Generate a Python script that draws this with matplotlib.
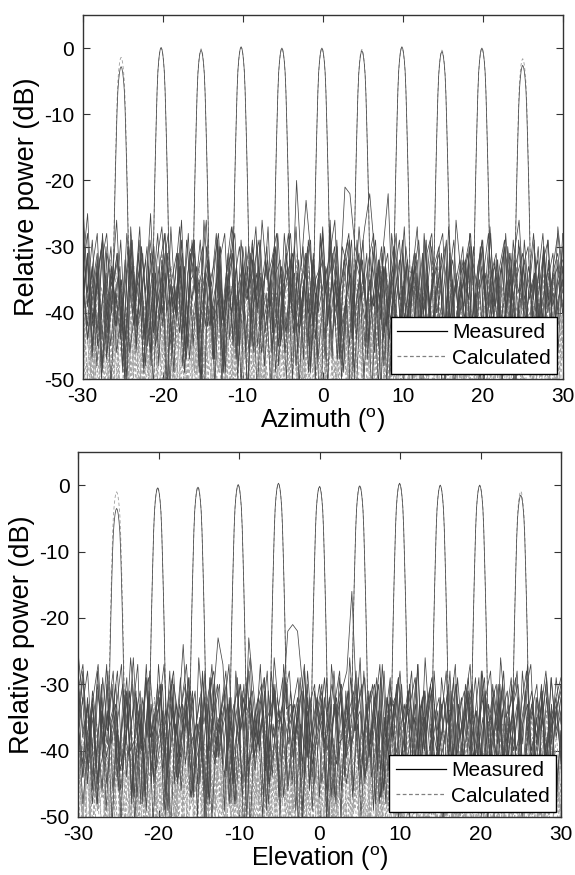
import numpy as np
import matplotlib
matplotlib.use("Agg")
import matplotlib.pyplot as plt
from matplotlib.lines import Line2D

plt.rcParams['font.family'] = ['Liberation Sans', 'DejaVu Sans']
plt.rcParams['mathtext.fontset'] = 'custom'
plt.rcParams['mathtext.rm'] = 'Liberation Sans'
plt.rcParams['axes.unicode_minus'] = False

# ---------------- data ----------------
# beam pointing angles (deg) and peak levels (dB)
az_centers = [-25.2, -20.2, -15.2, -10.2, -5.1, -0.1, 4.9, 9.9, 14.9, 19.9, 25.0]
az_peak_meas = [-2.8, 0.1, -0.3, 0.2, 0.0, 0.0, -0.4, 0.2, -0.5, 0.0, -2.6]
az_peak_calc = [-1.4, 0.0, -0.1, 0.1, 0.0, 0.0, -0.2, 0.1, -0.3, 0.0, -1.6]

el_centers = [-25.2, -20.1, -15.1, -10.1, -5.1, 0.0, 5.0, 9.95, 15.0, 19.9, 25.0]
el_peak_meas = [-3.5, -0.4, -0.3, 0.1, 0.3, -0.2, -0.1, 0.3, 0.0, 0.0, -1.5]
el_peak_calc = [-1.0, -0.3, -0.2, 0.0, 0.2, -0.1, 0.0, 0.2, 0.0, 0.0, -0.9]

# main-lobe shape: offset from beam centre (deg) and drop below peak (dB)
lobe_offset = [-1.0, -0.9, -0.8, -0.7, -0.6, -0.5, -0.4, -0.3, -0.2, -0.1, 0.0,
               0.1, 0.2, 0.3, 0.4, 0.5, 0.6, 0.7, 0.8, 0.9, 1.0]
lobe_drop = [34, 27, 20.8, 15.5, 10.8, 6.5, 3.6, 2.0, 0.9, 0.25, 0,
             0.25, 0.9, 2.0, 3.6, 6.5, 10.8, 15.5, 20.8, 27, 34]

# per-beam side-lobe level offsets (dB, added to the depths below)
az_meas_shift = [-1, 0, 2, 4, 0, 0, 3, -2, 1, 4, 2]
az_calc_shift = [0, 3, 1, 4, -2, 2, 5, 0, 3, -1, 4]
el_meas_shift = [-1, 0, 0, 0, 3, 0, 2, 4, -2, 3, 1]
el_calc_shift = [2, 0, 4, 1, 3, -2, 5, 2, 0, 3, 1]

# side-lobe levels (dB below 0), sampled evenly from -30 to 30 deg
az_meas_sll = [
 [24,38,30,44,33,29,41,35,47,31,28,39,33,45,30,36,42,29,37,50,32,40,29,46,35,31,43,38,30,52,34,28,41,36,47,32,39,30,44,37,31,45,29,38,42,33,48,30,36,41,29,43,35,31,49,37,30,45,33,40,36,30,42,34,51,31,39,28,44,35,30,41,37,46,32,29,43,36,48,33,38,31,45,34,40,29,47,35,31,42,33,46,30,39,36,44,31,50,34,29,37],
 [33,25,41,35,29,46,38,31,43,28,36,45,30,39,48,34,30,22,27,40,33,47,31,37,29,42,36,51,32,28,44,35,30,39,46,33,29,41,37,31,48,34,28,43,36,30,45,32,39,27,41,35,47,30,33,44,29,38,31,53,36,30,42,35,28,46,33,39,31,44,37,29,48,34,30,41,36,32,45,28,39,35,50,31,37,43,30,34,46,29,40,33,38,30,44,35,31,42,28],
 [36,29,43,31,48,35,28,40,33,45,30,37,27,42,34,49,31,38,29,44,35,24,41,33,47,30,38,32,45,28,40,34,29,46,37,31,43,27,39,35,50,32,30,44,36,28,41,33,47,29,38,34,31,45,27,40,36,52,30,33,43,29,37,31,46,34,28,42,35,30,48,32,39,27,44,36,31,41,29,50,34,37,30,45,33,28,42,35,47,31,38,29,43,34,30,46,32,40,28,37,35,44,31],
 [31,40,34,28,45,37,30,42,35,49,29,38,33,44,27,41,36,30,47,32,39,29,43,35,31,50,28,37,34,45,30,40,26,43,36,31,48,33,29,41,37,32,46,28,39,35,30,44,33,54,29,38,31,42,36,28,45,34,30,40,33,47,29,37,31,43,35,28,41,32,49,30,38,34,27,44,36,31,42,29,39,33,46,30,35,28,41,37,31,48,34,29,43,36,30,39,32,45,28,36],
 [34,28,42,36,30,47,33,39,29,44,31,37,27,43,35,30,48,33,28,40,36,31,45,29,38,34,26,42,37,30,49,32,28,41,35,30,46,33,38,27,43,31,36,29,40,20,33,23,31,44,29,37,34,30,47,32,28,41,36,29,45,33,39,31,51,28,35,42,30,37,33,46,29,40,34,31,44,27,38,35,30,48,32,36,29,42,34,31,45,28,39,33,30,43,36,29,47,31,38,34,40,30],
 [30,39,33,45,28,41,36,31,48,34,29,43,37,30,46,32,27,40,35,31,44,29,38,33,50,30,36,28,42,34,31,47,29,38,35,27,43,32,39,30,45,33,28,41,36,31,49,30,37,34,26,42,35,21,22,30,33,27,22,31,38,30,44,34,29,41,36,31,47,28,39,33,30,45,35,29,42,32,38,30,52,34,28,41,36,31,46,29,37,33,30,44,35,28,40,34,31,37],
 [35,29,44,31,38,27,42,34,30,47,33,39,28,45,36,31,41,29,50,34,37,30,43,32,28,46,35,31,40,29,44,33,37,30,48,27,39,34,31,45,36,29,42,33,30,47,31,38,28,43,35,30,41,24,37,33,46,29,40,32,28,44,36,31,49,30,38,34,29,42,35,31,45,28,39,33,30,47,36,29,41,32,38,27,44,34,31,40,36,29,48,33,30,43,35,31,46,28,38,34,30,42,32,37],
 [29,41,35,30,46,33,38,28,43,36,31,48,32,39,27,44,34,30,41,37,29,45,33,31,50,28,38,35,30,43,36,29,47,32,39,31,42,28,37,34,30,46,33,40,29,44,35,31,52,30,37,33,28,45,36,31,41,29,39,34,30,47,32,24,43,35,31,40,36,29,45,33,30,42,38,31,48,28,36,34,30,44,32,39,29,41,35,31,46,33,28,40,37,30,43,34,31,45,29,36],
 [37,30,45,33,28,42,35,31,48,29,39,34,30,44,36,27,41,32,38,30,47,33,29,43,35,31,46,28,40,34,30,49,32,37,29,44,35,31,42,27,38,33,30,45,36,29,41,34,31,50,30,38,33,28,43,36,31,46,29,39,34,30,42,35,28,47,32,37,30,44,33,29,41,24,31,38,35,30,45,32,28,42,36,31,48,29,37,33,30,44,35,31,40,28,38,34,31],
 [32,38,29,44,35,30,47,33,40,28,42,36,31,45,29,39,34,30,48,32,37,25,43,35,31,46,30,38,33,29,44,36,31,41,28,49,34,30,42,37,31,45,29,39,33,30,47,32,36,28,43,35,31,40,29,46,34,30,51,33,37,31,42,28,39,35,30,45,32,38,29,44,36,31,41,33,30,47,28,38,34,31,43,36,29,45,32,39,30,42,35,31,48,29,37,33,30,44,36,28,40,34,31],
 [30,42,34,29,46,37,31,40,33,48,28,39,35,30,44,32,38,29,43,36,31,47,33,27,41,35,30,45,32,39,29,43,34,31,50,30,37,33,28,44,36,31,41,29,46,34,30,39,33,31,45,28,38,35,30,43,32,29,48,34,37,30,42,36,31,46,29,39,33,30,44,35,28,41,37,31,47,32,38,30,43,34,29,45,33,31,40,36,29,44,32,38,30,42,35,29,46,33,31,37],
]

az_calc_sll = [
 [33,45,38,52,36,41,56,34,47,39,31,50,42,37,58,35,44,40,53,33,46,38,49,36,55,41,34,47,39,51,37,43,60,35,45,40,32,48,38,54,36,42,46,34,57,39,44,37,50,33,41,48,36,53,40,35,46,38,59,34,43,49,37,52,40,33,45,39,56,36,42,47,35,51,38,44,40,33,54,37,46,41,35,50,39,43,48,34,57,38,42,36,49,40,33,53,37,45,39,47,35,51,41,38,44],
 [40,34,49,37,55,42,36,47,33,52,39,45,38,58,35,43,41,50,36,46,34,53,40,37,48,35,56,42,39,45,33,51,38,44,36,54,41,47,35,49,39,60,37,43,34,52,40,46,38,55,36,42,48,33,50,39,45,37,57,35,44,41,53,38,47,34,51,40,36,46,39,55,33,43,49,37,52,41,35,47,38,58,36,44,40,50,34,46,39,53,37,42,48,35,56,40,38,45,36],
 [37,48,35,53,41,39,46,33,57,40,44,36,51,38,47,34,55,42,37,49,35,52,40,45,38,60,36,43,47,34,50,39,44,37,54,41,35,48,38,56,36,42,46,33,51,40,45,37,53,39,34,49,41,58,36,43,38,47,35,52,40,44,37,55,33,46,39,50,42,36,48,35,57,38,43,41,51,34,45,39,54,37,47,36,49,40,33,53,38,44,42,50,35,46,39,56,37,43,48,34,52,40],
 [44,36,51,39,47,34,55,41,38,49,35,53,40,45,37,58,33,46,42,50,36,48,39,54,35,43,47,38,52,40,34,56,41,45,37,49,39,60,36,44,42,51,34,47,38,53,40,35,48,43,57,37,45,39,50,36,46,41,55,34,49,38,44,40,52,35,47,37,59,42,39,46,36,51,40,43,48,35,54,38,45,41,50,34,47,39,56,37,42,44,36,49,40,53,38,46,35],
 [39,52,36,45,41,57,34,48,38,43,50,35,55,40,46,37,53,33,47,42,59,36,44,39,51,35,49,41,56,38,45,34,52,40,47,37,54,36,43,48,39,58,35,46,41,50,33,53,38,44,40,56,36,49,42,47,34,55,39,45,37,51,41,60,35,48,38,43,46,36,53,40,44,39,57,34,50,42,47,37,54,35,45,41,52,38,49,36,56,40,43,47,34,51,39,45,37,58,41,48,36,53,44,40],
 [42,35,50,38,46,33,54,40,44,37,57,36,48,41,52,34,45,39,55,37,43,49,35,59,40,46,38,51,36,47,42,56,34,44,39,53,37,48,41,50,35,58,38,45,40,52,36,47,33,55,41,43,39,51,37,49,35,57,40,46,38,53,42,44,36,50,39,60,34,47,41,54,37,45,40,52,35,48,38,56,43,42,36,51,39,46,34,55,40,47,37,53,41,44,38,58,35,49,42,45],
 [36,49,41,55,38,44,47,34,53,40,46,37,58,42,35,51,39,45,43,56,36,48,40,52,34,47,41,57,38,44,39,50,35,54,42,46,37,60,40,43,48,36,52,39,45,34,55,41,47,38,51,36,49,43,57,35,44,40,53,37,46,42,50,34,56,39,45,41,48,36,54,38,43,47,35,59,40,44,37,51,42,46,34,53,39,48,36,55,41,45,38,50,35,57,43,44,37,52,40,47,36,54,39],
 [47,38,53,35,44,41,58,37,46,40,51,34,55,42,39,48,36,56,43,45,37,52,40,49,35,57,38,44,42,53,36,47,39,60,41,45,34,50,38,54,43,46,37,55,40,48,35,52,42,44,39,57,36,47,41,51,34,56,38,45,43,49,37,53,40,46,35,58,42,44,39,50,36,54,41,47,38,52,34,55,43,45,37,49,40,56,36,46,42,51,39,53,35,48,44,57,38,43],
 [41,54,37,46,43,50,35,57,40,45,38,52,36,48,44,56,39,47,34,53,42,45,37,59,40,49,36,51,43,46,38,55,35,47,41,50,37,58,44,43,39,52,36,48,40,54,35,46,42,57,38,45,41,51,34,49,43,56,37,44,40,53,36,47,39,60,42,45,35,50,41,55,38,46,37,52,43,48,36,57,40,44,39,51,35,54,42,47,37,49,41,56,38,45,36,53,44,46,39,50,37],
 [38,45,52,36,49,41,56,37,44,43,53,35,47,40,58,39,46,42,51,34,55,38,48,44,50,36,57,41,45,39,53,37,49,43,60,35,46,40,52,38,47,42,55,36,44,41,51,34,56,39,48,43,50,37,54,40,45,38,58,36,47,42,52,35,49,41,55,39,44,43,51,37,57,40,46,36,53,42,48,38,50,35,56,41,45,39,54,37,47,43,52,36,59,40,44,38,51,42,48,35,55,39,46,41],
 [35,46,40,53,38,44,49,36,57,42,45,39,51,34,55,41,47,37,52,43,46,38,58,36,48,40,54,35,45,42,50,39,56,37,47,41,53,34,49,43,46,38,59,36,44,40,51,42,48,35,55,39,45,37,52,41,47,36,57,43,44,38,50,35,54,40,46,42,53,37,49,39,56,34,45,41,51,38,48,36,58,42,44,40,52,37,47,35,55,43,46,39,50,36,54,41,45,38,49,40],
]

el_meas_sll = [
 [26,34,29,41,31,37,28,45,33,30,40,27,36,32,47,29,38,34,28,43,31,36,25,39,33,46,30,37,28,42,35,31,49,29,38,33,27,44,36,30,41,32,48,28,37,34,30,45,29,39,35,31,52,28,36,33,42,30,38,27,46,34,31,40,29,44,35,30,37,32,49,28,41,34,30,38,36,29,45,31,39,33,28,43,35,30,47,32,38,29,42,34,31,40,28,46,33,37,30,44,35,31],
 [31,27,40,33,45,29,37,34,28,43,36,30,47,32,38,23,29,41,35,30,44,33,27,39,36,31,48,29,37,34,28,42,35,30,46,32,38,27,43,34,31,50,29,36,33,41,28,45,35,30,39,32,47,29,37,34,31,43,28,40,35,30,46,33,38,29,42,31,36,27,49,34,30,41,37,31,44,29,38,33,30,47,28,36,35,42,31,39,30,45,33,28,40,36,31,43,29,37,32],
 [35,28,42,31,37,46,30,39,33,27,44,36,31,48,29,38,34,30,41,28,45,33,37,29,43,35,30,47,32,23,27,40,34,31,45,29,38,33,30,49,28,36,35,42,31,39,29,44,33,30,47,32,37,28,41,35,31,46,29,38,34,30,43,27,40,36,31,48,33,37,29,42,35,30,45,32,39,28,44,34,31,40,36,29,47,33,38,30,42,35,31,46,28,37,34,30,43,32,39,29,36],
 [30,38,33,46,28,41,35,31,44,37,29,48,32,39,27,43,34,30,47,33,38,29,42,36,31,45,28,40,34,30,49,32,37,29,43,23,31,39,34,45,30,37,33,22,21,22,30,36,44,32,38,29,47,34,30,41,36,28,45,33,39,31,43,35,29,48,32,37,30,42,34,31,46,28,40,35,30,44,33,38,29,41,36,31,47,32,37,30,43,34,28,45,35,31,39,33,42,29,38,34],
 [33,41,29,37,45,31,38,34,27,43,36,30,48,33,39,28,42,35,31,46,29,38,34,30,44,37,31,50,28,36,33,41,30,45,34,29,39,36,31,47,32,38,28,43,35,30,46,33,37,29,42,34,31,48,30,36,35,28,44,33,39,30,41,36,31,45,29,38,34,30,47,32,37,28,43,35,31,49,30,39,33,29,42,36,31,45,28,38,34,30,44,33,37,29,41,35,31,46,32,38,30,43,34],
 [29,37,33,44,31,39,28,46,35,30,41,34,27,48,32,38,30,43,36,29,45,33,37,31,50,28,40,35,30,42,33,38,29,47,34,31,39,36,28,44,32,37,30,45,34,31,41,29,38,33,22,30,36,31,28,16,34,30,43,36,29,47,32,38,30,41,35,28,44,33,37,31,49,29,36,34,30,42,38,31,46,28,39,33,30,44,35,29,40,36,31,47,32,37,30,43,34,31],
 [36,30,43,33,39,28,47,34,31,41,37,29,45,32,38,30,49,35,28,42,36,31,44,33,29,40,37,30,46,28,39,34,31,43,35,29,48,32,38,30,41,36,28,45,33,37,31,50,29,39,34,30,43,36,31,46,28,38,33,30,42,35,29,47,32,37,30,44,34,28,40,36,31,45,29,38,33,30,48,35,31,41,37,29,44,32,39,30,42,34,28,46,33,37,31,43,35,30,47,29,38,34,31,40],
 [31,44,35,29,40,37,30,47,33,38,28,42,36,31,45,29,39,34,30,48,32,37,28,43,35,31,46,30,38,33,29,41,36,31,49,28,37,34,30,44,32,39,29,42,35,31,47,30,36,33,28,45,34,38,30,41,36,29,46,32,37,31,43,35,28,48,33,39,30,42,34,31,45,29,38,35,30,44,32,37,28,41,36,31,47,33,38,30,43,34,29,46,32,37,31,40,35,30,44,33],
 [38,31,45,34,29,42,36,30,48,33,39,28,43,35,31,46,29,40,34,30,44,37,31,49,28,38,33,30,42,36,29,47,32,39,30,43,35,31,45,28,37,34,30,41,36,29,48,33,38,31,44,35,30,46,28,39,34,31,43,36,29,47,32,37,30,42,35,31,45,28,40,33,30,44,36,29,49,32,38,31,43,34,30,46,28,37,35,31,41,33,29,45,36,30,39,34,31],
 [33,39,30,45,36,29,42,34,31,48,28,37,35,30,44,32,38,29,46,34,31,41,36,28,43,33,39,30,47,35,31,40,29,45,34,30,49,32,37,28,42,36,31,44,33,38,30,46,29,39,35,31,43,34,30,47,28,37,33,31,41,36,29,45,32,38,30,48,34,31,42,35,29,44,33,37,30,46,28,39,34,31,43,36,30,40,32,47,29,38,35,31,44,33,30,41,36,29,45,34,31,38],
 [30,43,36,31,47,33,38,29,41,35,30,46,32,39,28,44,34,31,49,30,37,33,29,42,36,31,45,28,40,34,30,47,32,38,29,43,35,31,46,30,37,33,28,44,36,31,41,29,48,34,30,39,35,31,45,32,38,29,43,34,30,47,28,37,33,31,42,36,29,46,32,39,30,44,35,31,40,28,48,34,30,43,36,31,45,29,38,33,30,41,35,31,46,32,37,29,44,34,31,39],
]

el_calc_sll = [
 [38,51,35,46,42,56,37,44,40,53,34,48,43,58,36,45,39,52,41,47,35,55,38,44,42,50,36,57,40,46,37,53,43,45,34,59,39,48,41,51,36,54,38,45,43,49,35,56,40,47,37,52,42,44,36,58,39,46,41,50,34,55,38,48,43,53,37,45,40,57,35,47,42,51,39,44,36,54,41,49,38,60,35,46,43,52,37,45,40,56,34,48,42,50,39,53,36,47,41,55,38,44,43],
 [45,37,52,40,47,35,57,42,44,38,54,36,49,41,51,34,58,39,46,43,53,37,45,40,56,35,48,42,50,38,55,36,47,41,60,34,44,39,52,43,46,37,57,40,49,35,53,42,45,38,56,36,48,41,51,34,55,39,47,43,50,37,58,40,44,36,54,42,46,38,52,35,49,41,57,37,45,43,53,39,48,34,56,40,46,42,51,36,55,38,47,41,59,35,44,43,52,37,49,40],
 [41,55,38,47,36,52,43,45,39,58,35,48,42,51,37,54,40,46,34,57,41,44,38,53,36,49,43,56,39,45,35,50,42,59,37,47,40,52,34,55,43,44,38,51,36,57,41,48,39,53,35,46,42,56,37,45,40,50,34,58,43,47,38,54,36,49,41,52,39,45,35,57,42,48,37,51,40,55,34,46,43,53,38,44,36,59,41,49,39,52,35,47,42,56,37,45,40,50],
 [36,48,43,54,39,45,41,57,35,50,38,46,44,52,37,59,40,47,35,53,42,45,38,56,36,49,43,51,39,46,34,58,41,48,37,53,44,45,36,55,40,50,38,47,35,57,42,44,39,52,37,54,43,49,35,60,40,46,38,51,42,56,36,45,41,53,34,48,44,57,39,47,37,50,42,55,35,46,40,52,38,58,43,45,36,51,41,54,39,48,34,56,42,47,37,53,40,45,43,50,36,57,38,46,41],
 [43,36,51,40,46,38,56,34,48,42,53,37,45,41,58,35,47,39,52,43,44,36,55,40,49,38,57,34,46,42,51,37,54,41,45,35,59,39,48,43,50,36,53,40,47,38,56,34,45,42,52,37,49,41,55,35,46,39,58,43,44,36,51,40,54,38,48,34,57,42,45,37,50,41,53,35,47,39,56,43,46,36,52,40,49,38,55,34,45,42,51,37,58,41,47,35,53,39,48],
 [40,53,36,47,42,49,38,57,35,45,43,51,37,55,41,46,34,59,39,48,44,52,36,54,40,45,38,58,35,47,43,50,37,56,41,46,34,53,39,49,42,57,36,45,40,51,38,55,35,48,44,52,37,60,41,46,39,50,34,56,43,47,36,53,40,45,38,58,35,49,42,51,37,55,41,44,39,52,36,57,43,48,34,50,40,54,38,46,42,59,35,47,41,53,37,45,39,56,36,49,43,51],
 [37,46,52,39,44,41,57,35,49,43,53,38,45,36,59,40,47,42,51,34,55,39,48,44,50,37,56,41,45,38,53,35,58,43,47,36,52,40,46,39,57,34,49,42,51,37,54,41,45,38,60,35,48,43,50,36,55,40,46,39,53,37,57,42,44,34,51,41,56,38,47,43,52,36,54,39,45,40,58,35,49,42,50,37,55,41,46,38,53,34,57,43,47,36,51,40,44],
 [44,38,54,36,47,42,50,35,57,40,45,39,52,37,56,43,46,34,53,41,48,38,58,36,45,42,51,39,55,35,47,43,50,37,59,40,46,38,53,34,56,42,44,41,52,36,57,39,48,43,51,35,54,40,45,37,58,42,47,38,50,34,55,41,46,43,53,36,56,39,44,40,52,37,57,35,48,42,51,38,54,41,45,36,59,43,47,39,50,34,55,40,46,37,53,42,48,38,56,35,45],
 [39,50,42,56,36,46,40,53,35,48,43,58,38,45,41,52,37,55,34,47,44,51,39,57,36,46,42,54,38,49,35,59,41,45,43,52,37,56,40,47,34,53,39,50,42,57,36,46,44,51,38,55,35,48,41,53,37,58,43,45,39,52,36,56,40,47,34,54,42,50,38,57,35,46,43,51,37,55,41,48,39,53,36,60,44,45,40,52,34,56,38,47,42,51,37,54,35,49,43,58,39,46,41,50],
 [42,47,36,55,40,51,38,58,35,46,44,53,37,49,41,56,34,48,43,52,39,57,36,45,42,54,38,50,35,59,40,47,44,51,37,55,41,46,34,53,39,57,43,48,36,52,40,56,38,45,35,54,42,50,37,58,41,47,44,51,36,55,39,46,34,53,43,57,38,49,40,52,35,56,42,45,37,54,41,50,39,58,36,47,44,51,35,55,40,46,38,53,43,57,37,48,41,52,36],
 [35,49,41,54,38,46,43,57,36,50,40,53,34,47,42,56,39,45,37,52,44,58,35,48,41,51,38,55,36,46,43,59,40,49,37,53,42,47,34,56,39,50,44,52,36,57,41,46,38,54,35,48,43,51,40,58,37,45,42,53,36,55,39,49,44,50,34,57,41,47,38,52,43,56,35,46,40,54,37,51,42,59,36,48,39,53,44,45,38,56,35,50,41,52,37,55,43,47,40,51],
]

x_ticks = [-30, -20, -10, 0, 10, 20, 30]
y_ticks = [-50, -40, -30, -20, -10, 0]
legend_labels = ['Measured', 'Calculated']

MEAS_COLOR = '#474747'
CALC_COLOR = '#9e9e9e'


def beam_curve(center, peak, depths, shift):
    xs = np.linspace(-30, 30, len(depths))
    ys = -(np.asarray(depths, dtype=float) + shift)
    keep = np.abs(xs - center) > 1.0
    xl = center + np.asarray(lobe_offset)
    yl = peak - np.asarray(lobe_drop)
    x = np.concatenate([xs[keep], xl])
    y = np.concatenate([ys[keep], yl])
    order = np.argsort(x, kind='stable')
    return x[order], y[order]


def draw_panel(ax, centers, pk_meas, pk_calc, meas_sll, calc_sll,
               meas_shift, calc_shift, xlabel):
    for c, p, d, s in zip(centers, pk_calc, calc_sll, calc_shift):
        x, y = beam_curve(c, p, d, s)
        ax.plot(x, y, color=CALC_COLOR, lw=0.6, dashes=(4, 3))
    for c, p, d, s in zip(centers, pk_meas, meas_sll, meas_shift):
        x, y = beam_curve(c, p, d, s)
        ax.plot(x, y, color=MEAS_COLOR, lw=0.55)
    ax.set_xlim(-30, 30)
    ax.set_ylim(-50, 5)
    ax.set_xticks(x_ticks)
    ax.set_yticks(y_ticks)
    ax.tick_params(direction='in', top=True, right=True, length=5, width=0.8,
                   labelsize=15, pad=6, color='#333333')
    for sp in ax.spines.values():
        sp.set_linewidth(1.0)
        sp.set_color('#333333')
    ax.set_xlabel(xlabel, fontsize=18, labelpad=0)
    ax.set_ylabel('Relative power (dB)', fontsize=19.5, labelpad=3)
    handles = [Line2D([], [], color='black', lw=0.9),
               Line2D([], [], color='#808080', lw=0.9, dashes=(3, 2))]
    leg = ax.legend(handles, legend_labels, loc='lower right', fontsize=15,
                    frameon=True, fancybox=False, framealpha=1, edgecolor='black',
                    borderaxespad=0.25, handlelength=2.4, handletextpad=0.25,
                    borderpad=0.3, labelspacing=0.3)
    leg.get_frame().set_linewidth(1.0)


fig = plt.figure(figsize=(5.75, 8.75), dpi=100)
ax1 = fig.add_axes([82.7 / 575, 1 - 379 / 875, 480 / 575, 364 / 875])
ax2 = fig.add_axes([78 / 575, 1 - 817 / 875, 483 / 575, 365 / 875])

draw_panel(ax1, az_centers, az_peak_meas, az_peak_calc, az_meas_sll, az_calc_sll,
           az_meas_shift, az_calc_shift, r'Azimuth ($^\mathrm{o}$)')
draw_panel(ax2, el_centers, el_peak_meas, el_peak_calc, el_meas_sll, el_calc_sll,
           el_meas_shift, el_calc_shift, r'Elevation ($^\mathrm{o}$)')

fig.savefig('out.png', dpi=100)
